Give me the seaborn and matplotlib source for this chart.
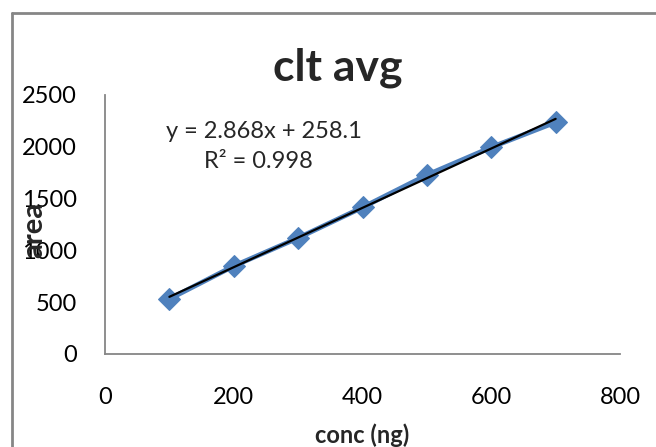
import matplotlib
matplotlib.use("Agg")
import matplotlib.pyplot as plt
from matplotlib.lines import Line2D
import seaborn as sns
import pandas as pd

conc = [100, 200, 300, 400, 500, 600, 700]
area = [531, 849, 1120, 1415, 1728, 1995, 2237]
x_ticks = [0, 200, 400, 600, 800]
y_ticks = [0, 500, 1000, 1500, 2000, 2500]
title = "clt avg"
equation = "y = 2.868x + 258.1"
r2_text = "R² = 0.998"

sns.set_theme(style="white")
plt.rcParams['font.family'] = ['Lato', 'DejaVu Sans']

df = pd.DataFrame({"conc": conc, "area": area})

fig = plt.figure(figsize=(6.56, 4.47), dpi=100)
ax = fig.add_axes([105/656, 1-354/447, (620-105)/656, (354-95)/447])

sns.lineplot(data=df, x="conc", y="area", ax=ax, color="#4F81BD", linewidth=3.5,
             marker="D", markersize=11, markeredgecolor="#4F81BD")
sns.regplot(data=df, x="conc", y="area", ax=ax, scatter=False, ci=None,
            line_kws=dict(color="black", linewidth=1.6))

ax.set_xlim(0, 800)
ax.set_ylim(0, 2500)
ax.set_xticks(x_ticks)
ax.set_yticks(y_ticks)
ax.tick_params(axis="both", which="both", direction="out", length=6, width=1.3,
               color="#868686", labelsize=17, labelcolor="black")
ax.tick_params(axis="x", pad=18)
ax.tick_params(axis="y", pad=14)
for s in ["top", "right"]:
    ax.spines[s].set_visible(False)
for s in ["left", "bottom"]:
    ax.spines[s].set_color("#868686")
    ax.spines[s].set_linewidth(1.3)
ax.set_xlabel("")
ax.set_ylabel("")

fig.text(338/656, 1-68/447, title, ha="center", va="center", fontsize=32, fontweight="bold")
fig.text(362/656, 1-435/447, "conc (ng)", ha="center", va="center", fontsize=17, fontweight="bold")
fig.text(34/656, 1-230/447, "area", ha="center", va="center", fontsize=21, fontweight="bold", rotation=90)
fig.text(264/656, 1-132/447, equation, ha="center", va="center", fontsize=17)
fig.text(258/656, 1-162/447, r2_text, ha="center", va="center", fontsize=17)

# outer chart border (left and top visible)
fig.add_artist(Line2D([12/656, 12/656], [0, 1-13/447], transform=fig.transFigure, color="#868686", linewidth=2))
fig.add_artist(Line2D([12/656, 1], [1-13/447, 1-13/447], transform=fig.transFigure, color="#868686", linewidth=2))

fig.savefig("out.png", dpi=100)
